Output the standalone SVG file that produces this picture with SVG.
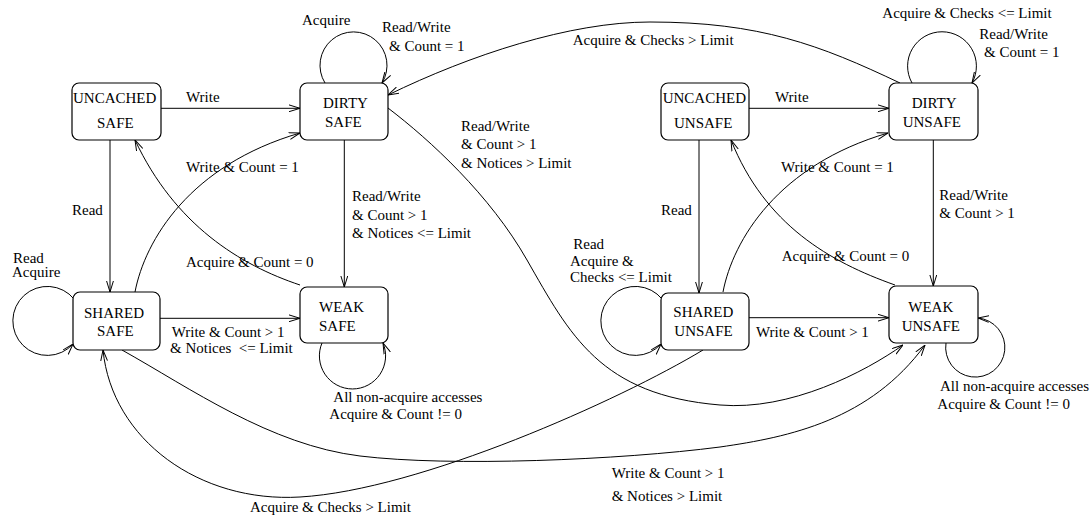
<svg xmlns="http://www.w3.org/2000/svg" width="1091" height="519" viewBox="0 0 1091 519">
<style>
text{font-family:"Liberation Serif","Times New Roman",serif;font-size:15px;fill:#000;white-space:pre}
.box{fill:#fff;stroke:#000;stroke-width:1.2}
.e{fill:none;stroke:#000;stroke-width:1}
</style>
<defs>
<marker id="a" viewBox="0 0 11 8" refX="11" refY="4" markerWidth="11" markerHeight="8" markerUnits="userSpaceOnUse" orient="auto">
<path d="M0,0.6 L11,4 L0,7.4" fill="none" stroke="#000" stroke-width="1"/>
</marker>
</defs>
<rect width="1091" height="519" fill="#fff"/>
<g id="connectors">
<path class="e" marker-end="url(#a)" d="M161 108.3 H300"/>
<path class="e" marker-end="url(#a)" d="M110 140 V292"/>
<path class="e" marker-end="url(#a)" d="M344.3 140 V287"/>
<path class="e" marker-end="url(#a)" d="M160 318.3 H300"/>
<path class="e" marker-end="url(#a)" d="M749 108.3 H889"/>
<path class="e" marker-end="url(#a)" d="M699 140 V293"/>
<path class="e" marker-end="url(#a)" d="M933.3 140 V286"/>
<path class="e" marker-end="url(#a)" d="M749 317.7 H889"/>
<path class="e" marker-end="url(#a)" d="M325 83 A33.5 33.5 0 1 1 382 83"/>
<path class="e" marker-end="url(#a)" d="M912 83 A34.4 34.4 0 1 1 972 83"/>
<path class="e" marker-end="url(#a)" d="M74 299 A34.5 34.5 0 1 0 73 344"/>
<path class="e" marker-end="url(#a)" d="M662 299 A34.5 34.5 0 1 0 661 344"/>
<path class="e" marker-end="url(#a)" d="M322 343 A33.1 33.1 0 1 0 383 343"/>
<path class="e" marker-end="url(#a)" d="M946 343 A29.6 29.6 0 1 0 978 318"/>
<path class="e" marker-end="url(#a)" d="M135 292 C145 240 190 165 300 133"/>
<path class="e" marker-end="url(#a)" d="M300 285 C240 265 175 225 135 140"/>
<path class="e" marker-end="url(#a)" d="M723 292 C733 240 778 165 888 133"/>
<path class="e" marker-end="url(#a)" d="M895 285 C830 262 765 225 731 140"/>
<path class="e" marker-end="url(#a)" d="M900 83 C820 45 760 22 650 22 C570 22 470 55 388 95"/>
<path class="e" marker-end="url(#a)" d="M388 108 C430 140 490 195 527 260 C570 335 600 395 720 405 C790 411 865 372 903 345"/>
<path class="e" marker-end="url(#a)" d="M122 350 C190 388 270 445 360 456 C450 467 620 460 720 447 C790 437 870 420 925 345"/>
<path class="e" marker-end="url(#a)" d="M703 350 C620 400 420 490 300 497 C200 503 112 440 103 350"/>
</g>
<g id="labels">
<text x="186" y="101.7">Write</text>
<text x="775" y="101.7">Write</text>
<text x="302" y="25">Acquire</text>
<text x="382" y="31.7">Read/Write</text>
<text x="389" y="50.7">&amp; Count = 1</text>
<text x="352" y="201">Read/Write</text>
<text x="352" y="219.5">&amp; Count &gt; 1</text>
<text x="352" y="238">&amp; Notices &lt;= Limit</text>
<text x="72" y="215">Read</text>
<text x="13" y="263.3">Read</text>
<text x="12" y="277.3">Acquire</text>
<text x="186" y="171.7">Write &amp; Count = 1</text>
<text x="186" y="266.7">Acquire &amp; Count = 0</text>
<text x="171.7" y="336.7">Write &amp; Count &gt; 1</text>
<text x="170" y="353.3">&amp; Notices  &lt;= Limit</text>
<text x="333.3" y="401.7">All non-acquire accesses</text>
<text x="329.3" y="419.3">Acquire &amp; Count != 0</text>
<text x="461" y="130.7">Read/Write</text>
<text x="461" y="149.3">&amp; Count &gt; 1</text>
<text x="461" y="168.3">&amp; Notices &gt; Limit</text>
<text x="572.7" y="45">Acquire &amp; Checks &gt; Limit</text>
<text x="882.3" y="18.3">Acquire &amp; Checks &lt;= Limit</text>
<text x="979.3" y="39.3">Read/Write</text>
<text x="984" y="57.3">&amp; Count = 1</text>
<text x="939.3" y="200">Read/Write</text>
<text x="939.3" y="218.3">&amp; Count &gt; 1</text>
<text x="661" y="215">Read</text>
<text x="573.3" y="249">Read</text>
<text x="570" y="265.7">Acquire &amp;</text>
<text x="570" y="281.7">Checks &lt;= Limit</text>
<text x="781" y="171.7">Write &amp; Count = 1</text>
<text x="781.7" y="260.7">Acquire &amp; Count = 0</text>
<text x="756" y="336.7">Write &amp; Count &gt; 1</text>
<text x="940" y="390.7">All non-acquire accesses</text>
<text x="937.3" y="409.3">Acquire &amp; Count != 0</text>
<text x="611.7" y="478.3">Write &amp; Count &gt; 1</text>
<text x="611.7" y="500.7">&amp; Notices &gt; Limit</text>
<text x="250" y="512">Acquire &amp; Checks &gt; Limit</text>
</g>
<g id="uncached-safe"><rect class="box" x="72" y="83" width="89" height="57" rx="7"/><text x="73" y="103.3">UNCACHED</text><text x="97" y="127.7">SAFE</text></g>
<g id="dirty-safe"><rect class="box" x="300" y="83" width="88" height="57" rx="7"/><text x="323" y="108">DIRTY</text><text x="325" y="127">SAFE</text></g>
<g id="shared-safe"><rect class="box" x="73" y="292" width="87" height="58" rx="7"/><text x="84" y="317.7">SHARED</text><text x="97" y="336.3">SAFE</text></g>
<g id="weak-safe"><rect class="box" x="300" y="287" width="88" height="56" rx="7"/><text x="319" y="311.7">WEAK</text><text x="319" y="330.7">SAFE</text></g>
<g id="uncached-unsafe"><rect class="box" x="661" y="83" width="88" height="57" rx="7"/><text x="662.7" y="103.3">UNCACHED</text><text x="674" y="127.7">UNSAFE</text></g>
<g id="dirty-unsafe"><rect class="box" x="889" y="83" width="89" height="57" rx="7"/><text x="911.7" y="108.3">DIRTY</text><text x="902.7" y="126.7">UNSAFE</text></g>
<g id="shared-unsafe"><rect class="box" x="661" y="293" width="88" height="57" rx="7"/><text x="673.3" y="317.3">SHARED</text><text x="674.3" y="336.3">UNSAFE</text></g>
<g id="weak-unsafe"><rect class="box" x="889" y="286" width="89" height="57" rx="7"/><text x="908.3" y="311.7">WEAK</text><text x="901.7" y="331">UNSAFE</text></g>
</svg>
